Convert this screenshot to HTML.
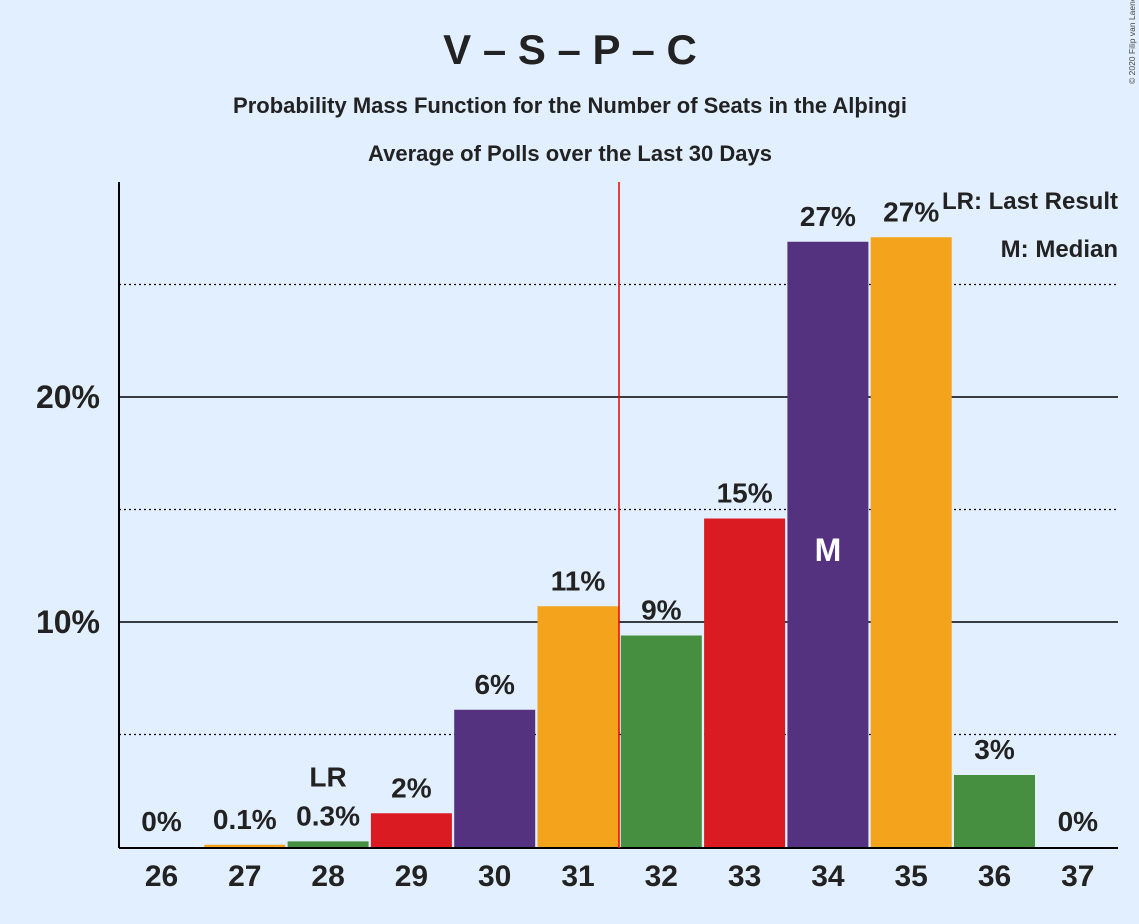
<!DOCTYPE html>
<html><head><meta charset="utf-8"><style>
html,body{margin:0;padding:0;background:#e2efff;}
svg{display:block;font-family:"Liberation Sans",sans-serif;}
</style></head><body>
<svg id="chart" width="1139" height="924" viewBox="0 0 1139 924">
<rect width="1139" height="924" fill="#e2efff"/>
<text x="570" y="64" text-anchor="middle" font-size="42" font-weight="bold" fill="#222">V – S – P – C</text>
<text x="570" y="113" text-anchor="middle" font-size="22" font-weight="bold" fill="#222">Probability Mass Function for the Number of Seats in the Alþingi</text>
<text x="570" y="161" text-anchor="middle" font-size="22" font-weight="bold" fill="#222">Average of Polls over the Last 30 Days</text>
<text transform="translate(1135,84) rotate(-90)" font-size="8.5" fill="#444">© 2020 Filip van Laenen</text>
<g id="grid"></g>
<g id="bars"></g>
<g id="labels"></g>
<line x1="119" y1="182" x2="119" y2="848" stroke="#000" stroke-width="2"/>
<line x1="119" y1="848" x2="1118" y2="848" stroke="#000" stroke-width="2"/>
<line x1="619" y1="182" x2="619" y2="848" stroke="#e00" stroke-width="1.5"/>
<text x="1118" y="209" text-anchor="end" font-size="24" font-weight="bold" fill="#222">LR: Last Result</text>
<text x="1118" y="257" text-anchor="end" font-size="24" font-weight="bold" fill="#222">M: Median</text>
</svg>
<script>
const seats=[26,27,28,29,30,31,32,33,34,35,36,37];
const probs=[0,0.1,0.25,1.5,6.1,10.7,9.4,14.6,26.9,27.1,3.2,0];
const valueLabels=["0%","0.1%","0.3%","2%","6%","11%","9%","15%","27%","27%","3%","0%"];
const colors=["#553280","#f4a41c","#478f40","#da1c22","#553280","#f4a41c","#478f40","#da1c22","#553280","#f4a41c","#478f40","#da1c22"];
const yTicks=[10,20];
const dottedTicks=[5,15,25];
const lastResultSeat=28, medianSeat=34;
const NS="http://www.w3.org/2000/svg";
const y=v=>847-v*22.5;
const xs=i=>120+i*83.3;
const bw=81;
const grid=document.getElementById('grid'),bars=document.getElementById('bars'),labels=document.getElementById('labels');
function mk(tag,attrs,parent,txt){const e=document.createElementNS(NS,tag);for(const k in attrs)e.setAttribute(k,attrs[k]);if(txt!==undefined)e.textContent=txt;parent.appendChild(e);return e;}
dottedTicks.forEach(t=>{const l=mk('line',{x1:119,x2:1118,y1:y(t),y2:y(t),stroke:'#000','stroke-width':1.3,'stroke-dasharray':'2,3'},grid);

});
yTicks.forEach(t=>{const l=mk('line',{x1:119,x2:1118,y1:y(t),y2:y(t),stroke:'#000','stroke-width':1.5},grid);


const tx=mk('text',{x:100,y:y(t)+11,'text-anchor':'end','font-size':32,'font-weight':'bold',fill:'#222'},labels,t+'%');

});
seats.forEach((s,i)=>{
 const x0=xs(i)+1,h=probs[i]*22.5;
 if(h>0){const r=mk('rect',{x:x0,y:y(probs[i]),width:bw,height:h,fill:colors[i]},bars);
 
 }
 const cx=x0+bw/2;
 const vl=mk('text',{x:cx,y:y(probs[i])-16,'text-anchor':'middle','font-size':28,'font-weight':'bold',fill:'#222'},labels,valueLabels[i]);
 
 
 const tl=mk('text',{x:cx,y:886,'text-anchor':'middle','font-size':30,'font-weight':'bold',fill:'#222'},labels,String(s));
 
 
 if(s===lastResultSeat){const t=mk('text',{x:cx,y:y(probs[i])-55,'text-anchor':'middle','font-size':28,'font-weight':'bold',fill:'#222'},labels,'LR');
 
 }
 if(s===medianSeat){const t=mk('text',{x:cx,y:y(probs[i])+319,'text-anchor':'middle','font-size':32,'font-weight':'bold',fill:'#fff'},labels,'M');
 
 }
});
</script>
</body></html>
